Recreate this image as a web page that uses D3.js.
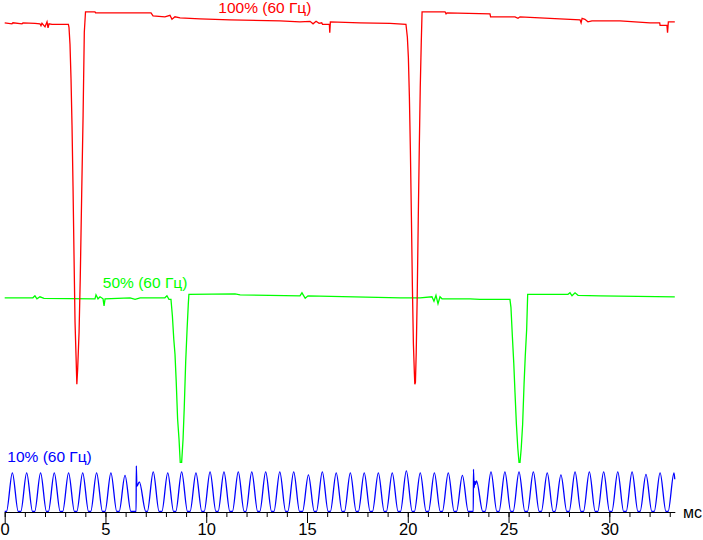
<!DOCTYPE html>
<html>
<head>
<meta charset="utf-8" />
<title>Мерцание подсветки</title>
<style>
    body { margin: 0; background: #fff; }
    svg { display: block; }
    text { font-family: "Liberation Sans", Arial, sans-serif; }
    path.trace { fill: none; stroke-width: 1.3; stroke-linejoin: miter; }
</style>
<script src="https://d3js.org/d3.v7.min.js"></script>
</head>
<body>
<script>

// time (ms) and brightness (rel. units)
const redTrace = [
    [0.00, 97.7], [0.36, 97.5], [0.41, 97.7], [0.86, 97.5], [0.91, 97.7],
    [1.50, 97.6], [1.75, 97.5], [1.80, 97.1], [1.85, 97.6], [2.00, 96.9],
    [2.10, 97.9], [2.15, 96.7], [2.20, 97.5], [2.35, 97.4], [3.16, 97.4],
    [3.19, 96.8], [3.24, 93.4], [3.29, 86.6], [3.34, 77.2], [3.39, 65.0],
    [3.44, 51.0], [3.49, 37.8], [3.54, 31.0], [3.58, 25.4], [3.62, 28.4],
    [3.69, 35.8], [3.75, 46.8], [3.82, 63.4], [3.89, 79.2], [3.95, 95.8],
    [4.01, 99.9], [4.48, 99.9], [4.51, 99.7], [7.26, 99.7], [7.36, 99.1],
    [7.95, 98.9], [8.20, 99.2], [8.30, 98.4], [8.45, 98.9], [8.70, 98.7],
    [9.69, 98.5], [11.18, 98.3], [13.66, 98.1], [14.65, 97.9], [15.15, 98.0],
    [15.30, 97.5], [15.45, 98.0], [15.60, 97.6], [15.73, 97.7], [15.77, 97.4],
    [16.11, 97.4], [16.13, 95.7], [16.16, 97.9], [17.63, 97.7], [19.12, 97.6],
    [19.91, 97.4], [19.98, 94.8], [20.03, 90.8], [20.08, 83.0], [20.13, 72.2],
    [20.18, 59.0], [20.23, 44.8], [20.28, 33.4], [20.33, 27.4], [20.35, 25.4],
    [20.38, 25.8], [20.42, 31.8], [20.47, 43.4], [20.52, 58.2], [20.57, 72.2],
    [20.62, 84.8], [20.67, 93.8], [20.71, 99.9], [21.85, 99.9], [21.90, 99.5],
    [21.95, 99.7], [24.08, 99.5], [24.11, 98.9], [25.32, 98.9], [25.47, 98.6],
    [25.57, 98.9], [27.55, 98.5], [28.55, 98.3], [28.60, 97.7], [28.65, 98.6],
    [28.79, 98.4], [28.94, 97.9], [29.14, 98.1], [30.53, 98.1], [32.02, 97.7],
    [32.50, 97.7], [32.52, 97.2], [32.86, 97.2], [32.89, 95.7], [32.93, 97.9],
    [33.25, 97.9]
];

const greenTrace = [
    [0.00, 42.7], [1.40, 42.7], [1.50, 43.1], [1.60, 42.5], [1.75, 42.9],
    [1.95, 42.6], [4.48, 42.5], [4.53, 43.3], [4.63, 42.5], [4.73, 42.9],
    [4.88, 42.5], [4.93, 41.1], [4.98, 42.5], [6.22, 42.7], [6.47, 42.4],
    [6.72, 42.7], [7.95, 42.7], [8.05, 43.1], [8.15, 42.4], [8.25, 42.4],
    [8.32, 39.1], [8.39, 34.4], [8.45, 31.4], [8.51, 26.0], [8.58, 18.4],
    [8.65, 14.4], [8.71, 9.8], [8.78, 9.8], [8.85, 14.4], [8.91, 20.8],
    [8.98, 29.8], [9.05, 36.4], [9.11, 41.4], [9.14, 43.4], [11.43, 43.5],
    [11.68, 43.3], [14.65, 43.1], [14.75, 43.7], [14.91, 42.6], [15.05, 43.1],
    [19.65, 42.7], [20.61, 42.7], [21.20, 42.9], [21.30, 42.0], [21.40, 43.2],
    [21.50, 41.5], [21.60, 42.9], [21.70, 42.5], [23.09, 42.5], [23.58, 42.4],
    [25.07, 42.4], [25.12, 40.8], [25.19, 35.0], [25.26, 29.6], [25.32, 23.8],
    [25.39, 17.4], [25.46, 12.6], [25.52, 9.8], [25.57, 9.8], [25.63, 12.6],
    [25.70, 17.4], [25.77, 25.4], [25.83, 31.0], [25.90, 36.4], [25.95, 43.4],
    [27.95, 43.4], [28.05, 43.7], [28.15, 43.1], [28.30, 43.7], [28.45, 43.2],
    [29.54, 43.1], [33.25, 42.9]
];

// blue: peak times / heights of the ripple, plus the two glitch cycles
const bluePeakT = [
    0.38, 1.09, 1.78, 2.46, 3.17, 3.87, 4.56, 5.27, 5.97,
    7.37, 8.09, 8.78, 9.49, 10.19, 10.88, 11.59, 12.26, 12.95, 13.65,
    14.34, 15.07, 15.76, 16.45, 17.15, 17.84, 18.54, 19.23, 19.93, 20.62,
    21.32, 22.01, 22.71,
    24.13, 24.82, 25.52, 26.23, 26.92, 27.60, 28.30, 29.01, 29.72, 30.42,
    31.13, 31.82, 32.52, 33.21
];
const bluePeakV = [
    7.7, 7.7, 7.7, 7.7, 7.7, 7.7, 7.7, 7.7, 7.2,
    7.9, 7.7, 7.9, 7.7, 7.9, 7.9, 7.9, 7.9, 7.9, 7.9,
    7.9, 7.3, 7.9, 7.7, 7.7, 7.7, 7.7, 7.7, 8.1, 7.7,
    7.7, 7.7, 7.2,
    7.9, 7.9, 7.9, 7.9, 7.7, 7.3, 7.9, 7.9, 7.9, 7.9,
    7.9, 7.4, 7.7, 7.7
];
const blueGlitch1 = [[6.52, 0], [6.53, 9.1], [6.56, 5.0], [6.68, 5.9], [7.00, 0]];
const blueGlitch2 = [[23.25, 0], [23.26, 8.4], [23.29, 4.7], [23.33, 6.0], [23.36, 5.4], [23.41, 6.1], [23.72, 0]];
const blueEnd = [33.25, 6.4];

const seriesNames = ["100% (60 Гц)", "50% (60 Гц)", "10% (60 Гц)"];
const majorTicks = [0, 5, 10, 15, 20, 25, 30];
const unitLabel = "мс";

// layout
let W = 703, H = 540;
let halfBase = 0.29;   // half width of one ripple hump, ms

let x = d3.scaleLinear().domain([0, 33.25]).range([4.7, 674.8]);
let y = d3.scaleLinear().domain([0, 100]).range([511.3, 11.3]);

let svg = d3.select("body")
    .append("svg")
    .attr("width", W)
    .attr("height", H);

// axis: long ticks every 5 ms, short ones every 1 ms
let axisY = 512;
let minorAxis = d3.axisBottom(x)
    .tickValues(d3.range(0, 34, 1))
    .tickSize(5)
    .tickSizeOuter(0)
    .tickFormat("");
let majorAxis = d3.axisBottom(x)
    .tickValues(majorTicks)
    .tickSize(11)
    .tickSizeOuter(0)
    .tickPadding(0)
    .tickFormat(d3.format("d"));

svg.append("g")
    .attr("transform", "translate(0," + axisY + ")")
    .call(minorAxis);

let gMajor = svg.append("g")
    .attr("transform", "translate(0," + axisY + ")")
    .call(majorAxis);
gMajor.select(".domain").remove();
gMajor.selectAll("text")
    .attr("font-family", "'Liberation Sans', Arial, sans-serif")
    .attr("font-size", 16.5)
    .attr("fill", "#000");

svg.append("text")
    .attr("x", 683)
    .attr("y", axisY + 5.5)
    .attr("font-size", 16)
    .attr("fill", "#000")
    .text(unitLabel);

// build blue points from the peaks
let bluePts = [[0, 0]];
bluePeakT.forEach((t, i) => {
    bluePts.push([t - halfBase, 0]);
    bluePts.push([t, bluePeakV[i]]);
    if (i < bluePeakT.length - 1) bluePts.push([t + halfBase, 0]);
});
bluePts.push(blueEnd);
bluePts = bluePts.concat(blueGlitch1, blueGlitch2).sort((a, b) => a[0] - b[0]);

let lineLinear = d3.line()
    .x(d => x(d[0]))
    .y(d => y(d[1]));
let lineSmooth = d3.line()
    .curve(d3.curveMonotoneX)
    .x(d => x(d[0]))
    .y(d => y(d[1]));

svg.append("path")
    .attr("class", "trace")
    .attr("stroke", "#00ff00")
    .attr("d", lineLinear(greenTrace));

svg.append("path")
    .attr("class", "trace")
    .attr("stroke", "#ff0000")
    .attr("d", lineLinear(redTrace));

svg.append("path")
    .attr("class", "trace")
    .attr("stroke", "#0000ff")
    .attr("d", lineSmooth(bluePts));

// series labels, placed in data units
let labelAt = [[10.6, 99.6], [4.87, 44.7], [0.13, 9.9]];
let labelColor = ["#ff0000", "#00ff00", "#0000ff"];

svg.selectAll("text.series")
    .data(seriesNames)
    .enter()
    .append("text")
    .attr("class", "series")
    .attr("x", (d, i) => x(labelAt[i][0]))
    .attr("y", (d, i) => y(labelAt[i][1]))
    .attr("font-size", 15.5)
    .attr("fill", (d, i) => labelColor[i])
    .text(d => d);

</script>
</body>
</html>
